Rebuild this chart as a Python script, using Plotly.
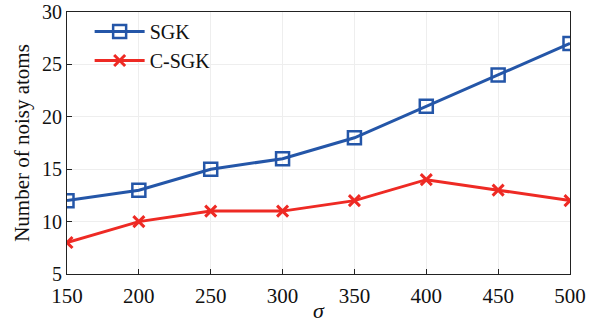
import plotly.graph_objects as go

sigma = [150, 200, 250, 300, 350, 400, 450, 500]
sgk = [12, 13, 15, 16, 18, 21, 24, 27]
csgk = [8, 10, 11, 11, 12, 14, 13, 12]
x_ticks = [150, 200, 250, 300, 350, 400, 450, 500]
y_ticks = [5, 10, 15, 20, 25, 30]

font_family = "Liberation Serif, DejaVu Serif, serif"

fig = go.Figure()
fig.add_trace(go.Scatter(
    x=sigma, y=sgk, name="SGK", mode="lines+markers",
    line=dict(color="#2456A8", width=3),
    marker=dict(symbol="square-open", size=13, color="#2456A8", line=dict(width=2.5, color="#2456A8")),
))
fig.add_trace(go.Scatter(
    x=sigma, y=csgk, name="C-SGK", mode="lines+markers",
    line=dict(color="#EE2A24", width=3),
    marker=dict(symbol="x-thin-open", size=11, color="#EE2A24", line=dict(width=3, color="#EE2A24")),
))

axis_common = dict(
    showline=True, linecolor="#222222", linewidth=1.2, mirror=True,
    ticks="inside", ticklen=5, tickcolor="#222222", tickwidth=1,
    showgrid=True, gridcolor="#EEEEEE", gridwidth=1,
    zeroline=False, automargin=False,
)

fig.update_layout(
    width=600, height=323,
    margin=dict(l=67, r=30, t=12, b=49),
    paper_bgcolor="white", plot_bgcolor="white",
    font=dict(family=font_family, color="#111111"),
    showlegend=True,
    legend=dict(
        x=0.045, y=1.0, xanchor="left", yanchor="top",
        bgcolor="rgba(0,0,0,0)", borderwidth=0,
        font=dict(family=font_family, size=20, color="#111111"),
        itemwidth=50, tracegroupgap=0,
    ),
    xaxis=dict(
        range=[150, 500], tickvals=x_ticks, ticktext=[str(v) for v in x_ticks],
        tickfont=dict(family=font_family, size=21, color="#111111"),
        ticklabelstandoff=3,
        title=dict(text="<i>σ</i>", font=dict(family=font_family, size=22), standoff=0),
        **axis_common,
    ),
    yaxis=dict(
        range=[5, 30], tickvals=y_ticks, ticktext=[str(v) for v in y_ticks],
        tickfont=dict(family=font_family, size=20, color="#111111"),
        title=dict(text="Number of noisy atoms", font=dict(family=font_family, size=21), standoff=6),
        **axis_common,
    ),
)

fig.write_html("out.html")
